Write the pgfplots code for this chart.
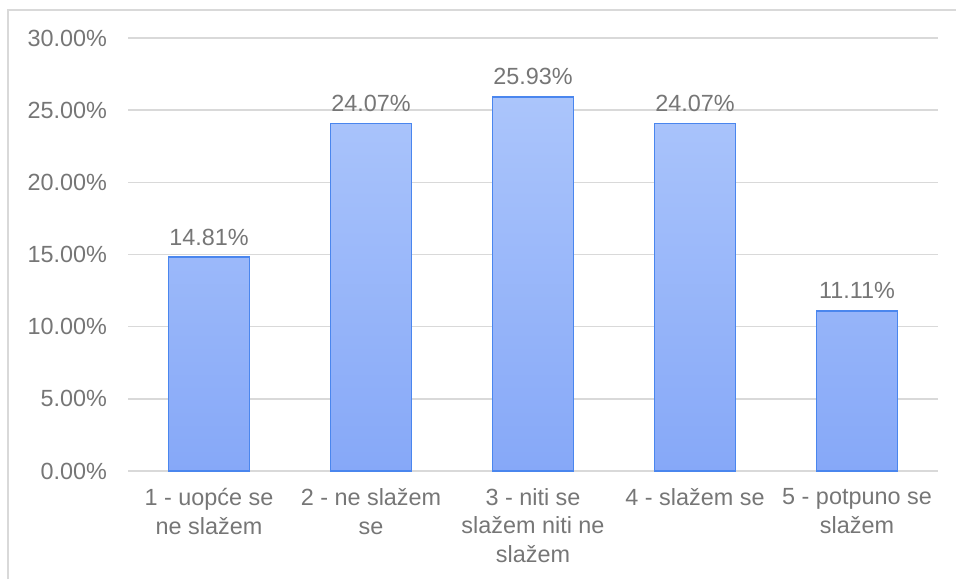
\documentclass[border=0pt]{standalone}
\usepackage{pgfplots}
\pgfplotsset{compat=1.18}
\usepackage{fontspec}
\setmainfont{Liberation Sans}
\definecolor{bartop}{HTML}{ABC5FB}
\definecolor{barbot}{HTML}{86A8F8}
\definecolor{baredge}{HTML}{4A86EE}
\definecolor{txtgray}{HTML}{767676}
\definecolor{gridgray}{HTML}{D9D9D9}

\begin{document}
\begin{tikzpicture}
% page = 956x579 px at 0.5pt per px; plot area lower-left at (0,0)
\path[use as bounding box] (-64pt,-54pt) rectangle (414pt,235.5pt);
\draw[gridgray, line width=0.8pt] (-60pt,-54pt) -- (-60pt,230.5pt) -- (414pt,230.5pt);
\begin{axis}[
    at={(0pt,0pt)}, anchor=south west,
    scale only axis,
    width=405pt, height=216.5pt,
    ymin=0, ymax=30,
    xmin=-0.5, xmax=4.5,
    ytick={0,5,...,30},
    yticklabel={\pgfmathprintnumber[fixed,fixed zerofill,precision=2]{\tick}\%},
    /pgf/number format/assume math mode=true,
    xtick=data,
    xticklabels={{1 - uopće se\\ne slažem}, {2 - ne slažem\\se}, {3 - niti se\\slažem niti ne\\slažem}, {4 - slažem se}, {5 - potpuno se\\slažem}},
    x tick label style={align=center, font=\fontsize{11.7}{14.2}\selectfont, text=txtgray, yshift=-1pt},
    y tick label style={font=\fontsize{11.7}{14.2}\selectfont, text=txtgray, xshift=-7pt},
    axis line style={draw=none},
    tick style={draw=none},
    ymajorgrids,
    grid style={gridgray, line width=0.8pt},
    ybar, bar width=40.5pt,
    nodes near coords={\pgfmathprintnumber[fixed,fixed zerofill,precision=2]{\pgfplotspointmeta}\%},
    nodes near coords style={font=\fontsize{11.7}{14.2}\selectfont, text=txtgray, yshift=2pt},
    clip=false,
]
\addplot[draw=baredge, line width=0.9pt, top color=bartop, bottom color=barbot] coordinates {
    (0, 14.81)
    (1, 24.07)
    (2, 25.93)
    (3, 24.07)
    (4, 11.11)
};
\end{axis}
\end{tikzpicture}
\end{document}
